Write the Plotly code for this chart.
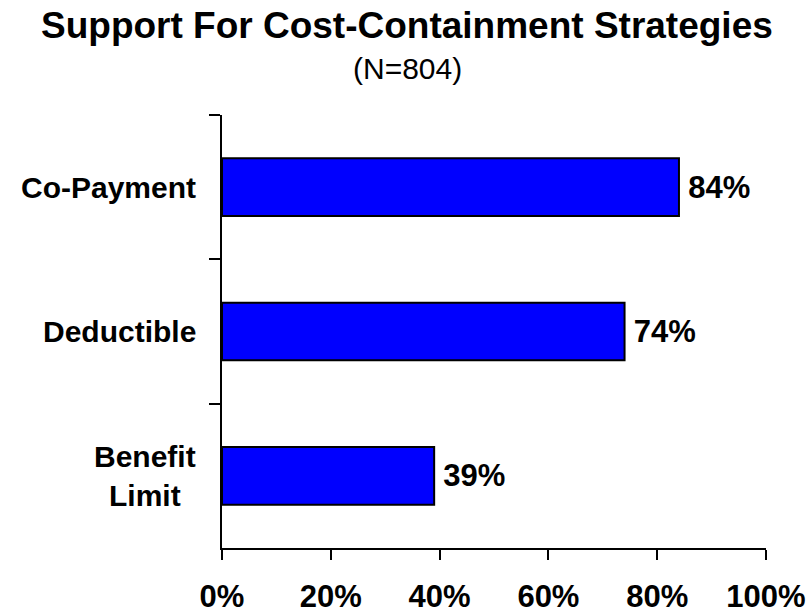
import plotly.graph_objects as go

# Survey results: share of respondents supporting each strategy
strategies = ["Co-Payment", "Deductible", "Benefit<br>Limit"]
support_pct = [84, 74, 39]
x_ticks = [0, 20, 40, 60, 80, 100]
x_tick_labels = ["0%", "20%", "40%", "60%", "80%", "100%"]
title_text = "Support For Cost-Containment Strategies"
subtitle_text = "(N=804)"

FONT = "Arial, 'Liberation Sans', sans-serif"
W, H = 809, 614
M_L, M_R, M_T, M_B = 222, 43, 115, 66
PLOT_W = W - M_L - M_R
PLOT_H = H - M_T - M_B


def px_to_paper_x(px):
    return (px - M_L) / PLOT_W


def px_to_paper_y(py):
    return 1 - (py - M_T) / PLOT_H


fig = go.Figure(
    go.Bar(
        x=support_pct,
        y=strategies,
        orientation="h",
        width=0.4,
        marker=dict(color="#0000FF", line=dict(color="black", width=2)),
        text=[f"<b>\u2009{v}%</b>" for v in support_pct],
        textposition="outside",
        cliponaxis=False,
        textfont=dict(family=FONT, size=31, color="black"),
        hoverinfo="skip",
    )
)

annotations = [
    dict(
        text=f"<b>{title_text}</b>",
        x=px_to_paper_x(407), y=px_to_paper_y(25),
        xref="paper", yref="paper", xanchor="center", yanchor="middle",
        showarrow=False, font=dict(size=37, family=FONT, color="black"),
    ),
    dict(
        text=subtitle_text,
        x=px_to_paper_x(407), y=px_to_paper_y(68),
        xref="paper", yref="paper", xanchor="center", yanchor="middle",
        showarrow=False, font=dict(size=30, family=FONT, color="black"),
    ),
]

# Category labels, centred line-by-line and right-aligned against the axis
for name in strategies:
    annotations.append(
        dict(
            text=f"<b>{name}</b>",
            x=px_to_paper_x(198), xref="paper",
            y=name, yref="y",
            xanchor="right", yanchor="middle", align="center",
            showarrow=False, font=dict(size=30, family=FONT, color="black"),
        )
    )

fig.update_layout(
    width=W,
    height=H,
    margin=dict(l=M_L, r=M_R, t=M_T, b=M_B, autoexpand=False),
    paper_bgcolor="white",
    plot_bgcolor="white",
    showlegend=False,
    font=dict(family=FONT, color="black"),
    annotations=annotations,
)

fig.update_xaxes(
    range=[0, 100],
    tickvals=x_ticks,
    ticktext=[f"<b>{t}</b>" for t in x_tick_labels],
    tickfont=dict(size=31, family=FONT, color="black"),
    ticks="outside",
    ticklen=10,
    tickwidth=2,
    tickcolor="black",
    showline=True,
    linecolor="black",
    linewidth=2,
    showgrid=False,
    zeroline=False,
    automargin=False,
    ticklabelstandoff=10,
)

fig.update_yaxes(
    type="category",
    categoryorder="array",
    categoryarray=strategies,
    range=[2.5, -0.5],
    tickson="boundaries",
    ticks="outside",
    ticklen=11,
    tickwidth=2,
    tickcolor="black",
    showline=True,
    linecolor="black",
    linewidth=2,
    showgrid=False,
    showticklabels=False,
    automargin=False,
)

fig.write_html("out.html")
